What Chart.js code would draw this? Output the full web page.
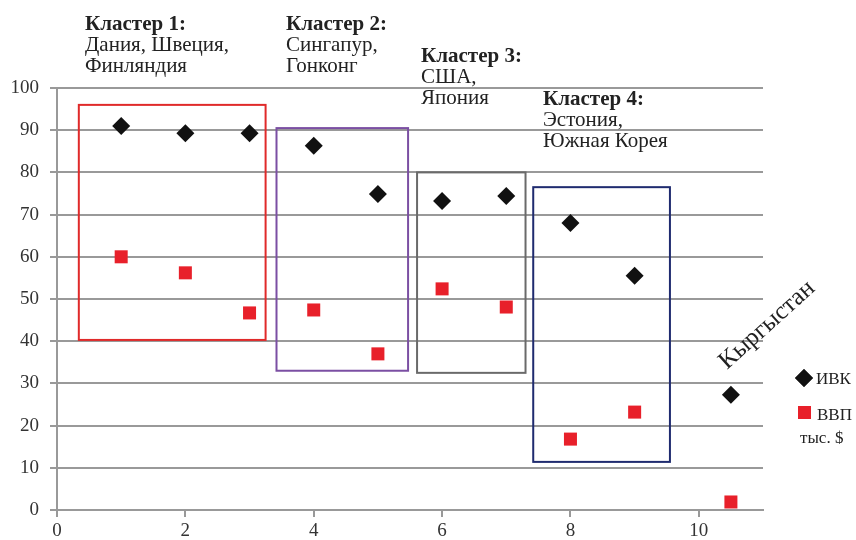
<!DOCTYPE html>
<html>
<head>
<meta charset="utf-8">
<script src="https://cdn.jsdelivr.net/npm/chart.js@4.4.1/dist/chart.umd.min.js"></script>
<style>
  html, body { margin: 0; padding: 0; background: #fff; }
  #wrap { width: 856px; height: 540px; position: relative; }
</style>
</head>
<body>
<div id="wrap"><canvas id="myChart" width="856" height="540"></canvas></div>
<script>
// data
var xs     = [1, 2, 3, 4, 5, 6, 7, 8, 9, 10.5];
var ivk    = [91, 89.3, 89.3, 86.3, 74.9, 73.2, 74.4, 68, 55.5, 27.3];
var vvp    = [60, 56.2, 46.7, 47.4, 37, 52.4, 48.1, 16.8, 23.2, 1.9];
var yTicks = [0, 10, 20, 30, 40, 50, 60, 70, 80, 90, 100];
var xTicks = [0, 2, 4, 6, 8, 10];

// cluster boxes in axis units: [x0, x1, yBottom, yTop]
var boxX0   = [0.34, 3.42, 5.61, 7.42];
var boxX1   = [3.25, 5.47, 7.3, 9.55];
var boxY0   = [40.3, 33, 32.5, 11.4];
var boxY1   = [96, 90.5, 80, 76.5];
var boxCols = ['#e02a2a', '#7b4fa3', '#6a6a6a', '#1f2b6f'];

var clusterTitles = ['Кластер 1:', 'Кластер 2:', 'Кластер 3:', 'Кластер 4:'];
var clusterLines  = [['Дания, Швеция,', 'Финляндия'], ['Сингапур,', 'Гонконг'], ['США,', 'Япония'], ['Эстония,', 'Южная Корея']];
var outlierLabel  = 'Кыргыстан';

var SERIF = '"Liberation Serif", "DejaVu Serif", serif';

function pairs(ys) {
  return xs.map(function (x, i) { return { x: x, y: ys[i] }; });
}

var extras = {
  id: 'extras',
  afterDatasetsDraw: function (chart) {
    var ctx = chart.ctx, sx = chart.scales.x, sy = chart.scales.y;
    ctx.save();
    // boxes
    ctx.lineWidth = 2;
    for (var i = 0; i < boxX0.length; i++) {
      var l = sx.getPixelForValue(boxX0[i]), r = sx.getPixelForValue(boxX1[i]);
      var t = sy.getPixelForValue(boxY1[i]), b = sy.getPixelForValue(boxY0[i]);
      ctx.strokeStyle = boxCols[i];
      ctx.strokeRect(l, t, r - l, b - t);
    }
    // cluster captions
    var pos = [[85, 30], [286, 30], [421, 62], [543, 105]];
    ctx.fillStyle = '#222';
    ctx.textBaseline = 'alphabetic';
    for (var k = 0; k < clusterTitles.length; k++) {
      ctx.font = 'bold 21px ' + SERIF;
      ctx.fillText(clusterTitles[k], pos[k][0], pos[k][1]);
      ctx.font = '21px ' + SERIF;
      for (var j = 0; j < clusterLines[k].length; j++) {
        ctx.fillText(clusterLines[k][j], pos[k][0], pos[k][1] + 21 * (j + 1));
      }
    }
    // outlier label
    ctx.save();
    ctx.translate(727, 370);
    ctx.rotate(-42 * Math.PI / 180);
    ctx.font = '25px ' + SERIF;
    ctx.fillText(outlierLabel, 0, 0);
    ctx.restore();
    // legend
    var ds = chart.data.datasets;
    Chart.helpers.drawPoint(ctx, { pointStyle: 'rectRot', radius: 9, borderWidth: 0 }, 804, 378);
    ctx.fillStyle = ds[0].backgroundColor; ctx.fill();
    ctx.fillStyle = ds[1].backgroundColor;
    ctx.fillRect(798, 406, 13, 13);
    ctx.fillStyle = '#222';
    ctx.font = '17px ' + SERIF;
    ctx.fillText('ИВК', 816, 384);
    ctx.fillText('ВВП', 817, 420);
    ctx.fillText('тыс. $', 800, 443);
    ctx.restore();
  }
};

var config = {
  type: 'scatter',
  data: {
    datasets: [{
      label: 'ИВК',
      data: pairs(ivk),
      pointStyle: 'rectRot',
      pointRadius: 9,
      pointHoverRadius: 9,
      backgroundColor: '#111111',
      borderColor: '#111111',
      borderWidth: 0
    }, {
      label: 'ВВП тыс. $',
      data: pairs(vvp),
      pointStyle: 'rect',
      pointRadius: 9.2,
      pointHoverRadius: 9.2,
      backgroundColor: '#e8202a',
      borderColor: '#e8202a',
      borderWidth: 0
    }]
  },
  options: {
    responsive: false,
    animation: false,
    layout: { padding: { top: 88, right: 93, left: 0, bottom: 0 } },
    plugins: { legend: { display: false }, tooltip: { enabled: false } },
    scales: {
      x: {
        type: 'linear',
        min: 0, max: 11,
        afterFit: function (s) { s.height = 30; },
        afterBuildTicks: function (s) { s.ticks = xTicks.map(function (v) { return { value: v }; }); },
        grid: { drawOnChartArea: false, drawTicks: true, tickLength: 7, color: '#999', lineWidth: 2 },
        border: { display: true, color: '#999', width: 2 },
        ticks: { color: '#333', padding: 3, font: { family: SERIF, size: 19 } }
      },
      y: {
        min: 0, max: 100,
        afterFit: function (s) { s.width = 57; },
        afterBuildTicks: function (s) { s.ticks = yTicks.map(function (v) { return { value: v }; }); },
        grid: { color: '#999', lineWidth: 2, tickLength: 7 },
        border: { display: true, color: '#999', width: 2 },
        ticks: { color: '#333', padding: 11, font: { family: SERIF, size: 19 } }
      }
    }
  },
  plugins: [extras]
};

window.onload = function () {
  new Chart(document.getElementById('myChart'), config);
};
</script>
</body>
</html>
